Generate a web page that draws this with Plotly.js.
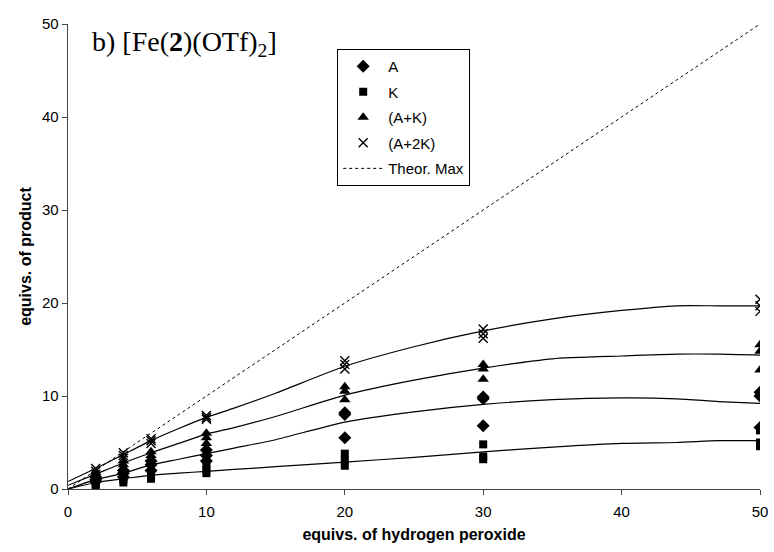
<!DOCTYPE html>
<html>
<head>
<meta charset="utf-8">
<script src="https://cdn.plot.ly/plotly-3.0.1.min.js"></script>
<style>html,body{margin:0;padding:0;background:#fff;}#chart{width:774px;height:552px;}</style>
</head>
<body>
<div id="chart"></div>
<script>
// Measured points (three replicates at each peroxide level)
const xPts = [2,2,2, 4,4,4, 6,6,6, 10,10,10, 20,20,20, 30,30,30, 50,50,50];
const valsA   = [1.3,1.0,0.8, 2.0,1.7,1.3, 3.0,2.6,2.0, 4.2,3.6,3.0, 8.2,8.0,5.5, 9.9,9.7,6.8, 10.4,10.0,6.6];
const valsK   = [0.8,0.5,0.3, 1.3,1.0,0.7, 1.8,1.4,1.1, 2.6,2.1,1.7, 3.8,3.1,2.5, 4.8,3.5,3.2, 6.3,5.0,4.6];
const valsAK  = [1.8,1.5,1.2, 3.0,2.6,2.2, 4.0,3.6,3.2, 6.0,5.5,4.9, 11.0,10.5,9.6, 13.4,12.9,11.8, 15.5,14.8,12.8];
const valsA2K = [2.2,1.9,1.6, 3.9,3.6,3.3, 5.4,5.2,4.9, 7.9,7.7,7.5, 13.8,13.4,12.9, 17.2,16.7,16.2, 20.4,19.7,19.1];

// Trend curves
const xFit   = [0,2,4,6,8,10,12,15,20,25,30,35,40,44,47,50];
const fitA2K = [0.8,2.2,3.7,5.2,6.5,7.7,8.7,10.3,13.2,15.3,17.0,18.3,19.2,19.7,19.7,19.7];
const fitAK  = [0.4,1.6,2.8,3.9,4.9,5.9,6.6,7.8,10.1,11.7,13.0,14.0,14.3,14.5,14.5,14.4];
const fitA   = [0,1.0,1.7,2.6,3.2,3.8,4.4,5.3,7.2,8.3,9.1,9.6,9.8,9.7,9.4,9.2];
const fitK   = [0,0.7,1.1,1.5,1.7,1.9,2.1,2.4,2.9,3.4,4.0,4.5,4.9,5.0,5.2,5.2];

// Theoretical maximum
const xMax = [0,50];
const yMax = [0,50];

const seriesNames = ['A','K','(A+K)','(A+2K)','Theor. Max'];
const ticks = [0,10,20,30,40,50];

const fitLine = {color:'#000', width:1.2, shape:'spline', smoothing:0.6};
const traces = [
  {x:xFit, y:fitA2K, mode:'lines', line:fitLine, showlegend:false, hoverinfo:'skip'},
  {x:xFit, y:fitAK,  mode:'lines', line:fitLine, showlegend:false, hoverinfo:'skip'},
  {x:xFit, y:fitA,   mode:'lines', line:fitLine, showlegend:false, hoverinfo:'skip'},
  {x:xFit, y:fitK,   mode:'lines', line:fitLine, showlegend:false, hoverinfo:'skip'},
  {x:xPts, y:valsA, name:seriesNames[0], legendgroup:'g1', mode:'markers', marker:{symbol:'diamond', size:10, color:'#000'}},
  {x:xPts, y:valsK, name:seriesNames[1], legendgroup:'g2', mode:'markers', marker:{symbol:'square', size:8, color:'#000'}},
  {x:xPts, y:valsAK, name:seriesNames[2], legendgroup:'g3', mode:'markers', marker:{symbol:'triangle-up', size:10, color:'#000'}},
  {x:xPts, y:valsA2K, name:seriesNames[3], legendgroup:'g4', mode:'markers', marker:{symbol:'x-thin-open', size:9, color:'#000', line:{color:'#000', width:1.4}}},
  {x:xMax, y:yMax, name:seriesNames[4], legendgroup:'g5', mode:'lines', line:{color:'#000', width:1, dash:'dot'}}
];

const axisCommon = {
  range:[0,50], tickvals:ticks, ticktext:ticks.map(String),
  showgrid:false, zeroline:false, showline:true, linecolor:'#444', linewidth:1.3,
  ticks:'outside', ticklen:5, tickcolor:'#444',
  tickfont:{family:'Liberation Sans, Arial', size:15, color:'#000'}
};

const layout = {
  width:774, height:552,
  margin:{l:68, r:14, t:24, b:63},
  paper_bgcolor:'#fff', plot_bgcolor:'#fff',
  font:{family:'Liberation Sans, Arial', color:'#000'},
  xaxis:Object.assign({}, axisCommon, {
    ticklabelstandoff:4,
    title:{text:'<b>equivs. of hydrogen peroxide</b>', font:{family:'Liberation Sans, Arial', size:16, color:'#000'}, standoff:9}
  }),
  yaxis:Object.assign({}, axisCommon, {
    title:{text:'<b>equivs. of product</b>', font:{family:'Liberation Sans, Arial', size:16, color:'#000'}, standoff:6}
  }),
  showlegend:true,
  legend:{
    x:0.389, y:0.946, xanchor:'left', yanchor:'top',
    bgcolor:'#fff', bordercolor:'#000', borderwidth:1,
    font:{family:'Liberation Sans, Arial', size:15, color:'#000'},
    itemwidth:40, traceorder:'grouped', tracegroupgap:3
  },
  annotations:[{
    xref:'paper', yref:'paper', x:0.032, y:0.959, xanchor:'left', yanchor:'middle',
    text:'b) [Fe(<b>2</b>)(OTf)<sub>2</sub>]', showarrow:false,
    font:{family:'Liberation Serif, Times New Roman', size:28, color:'#000'}
  }]
};

Plotly.newPlot('chart', traces, layout, {displayModeBar:false, staticPlot:true});
</script>
</body>
</html>
